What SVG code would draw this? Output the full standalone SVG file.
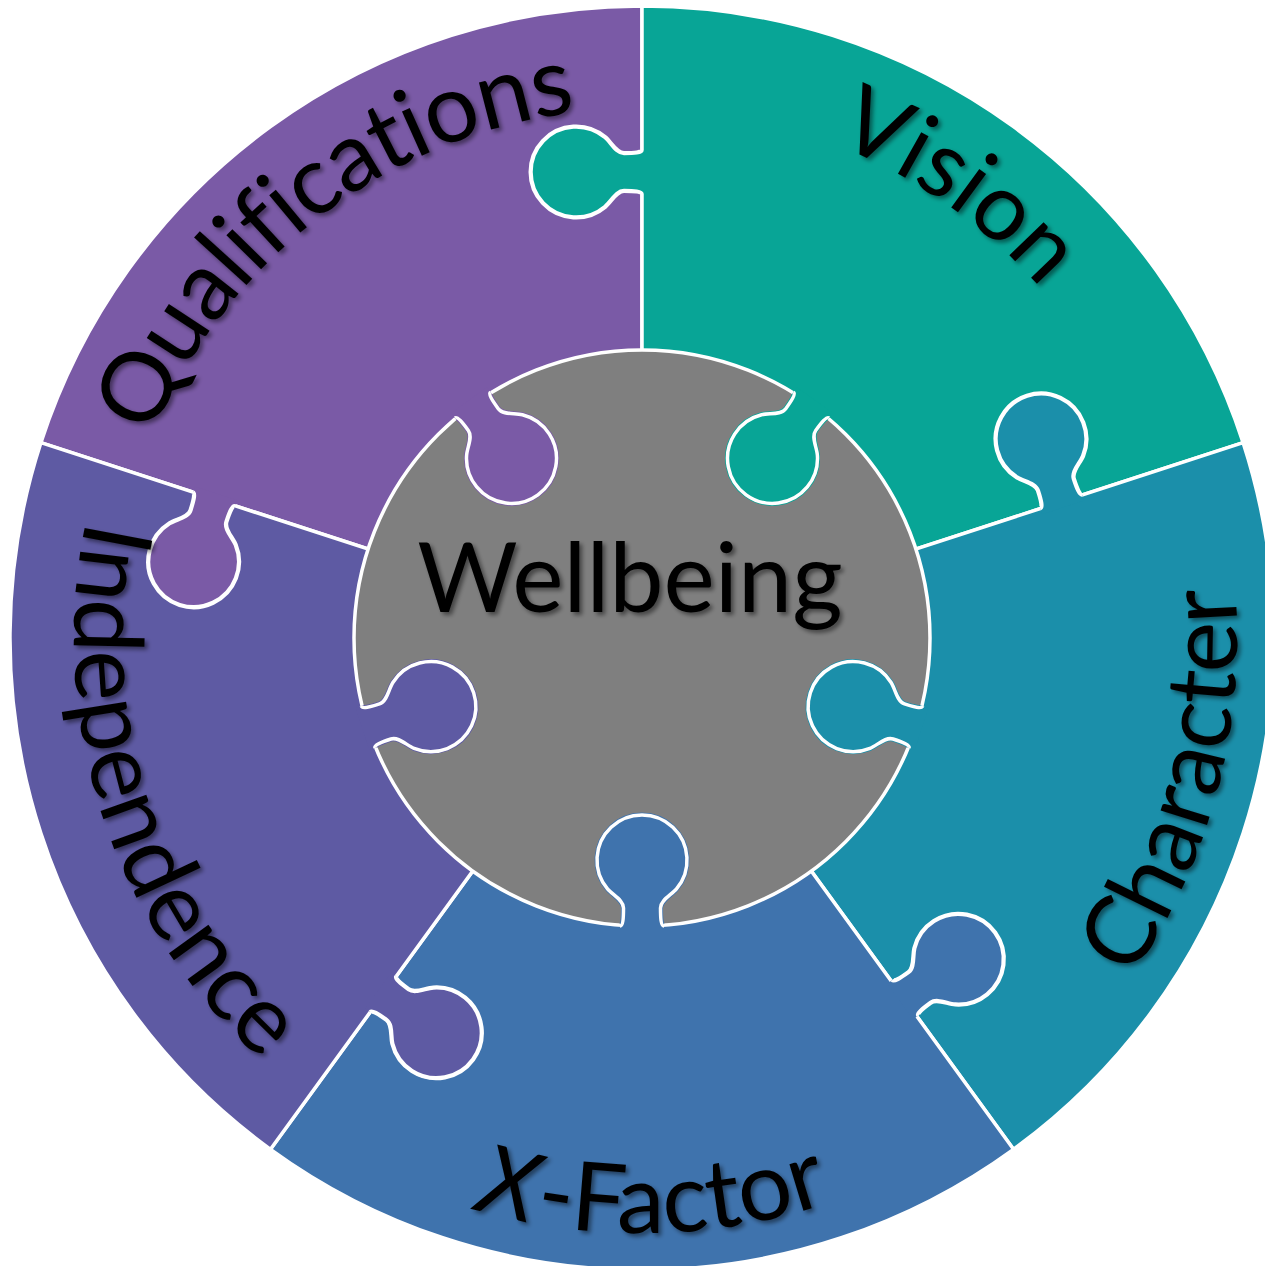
<svg xmlns="http://www.w3.org/2000/svg" width="1265" height="1266" viewBox="0 0 1265 1266">
  <style>
    .q{fill:#7A5AA6}
    .v{fill:#08A596}
    .c{fill:#1B8FAA}
    .x{fill:#3F73AD}
    .i{fill:#5E5AA3}
    .piece{stroke:#fff;stroke-width:3.5;stroke-linejoin:round}
    .edge{fill:none;stroke:#fff;stroke-width:3.5;stroke-linejoin:round}
    .hole{fill:#000}
    .hole-edge{fill:none;stroke:#000;stroke-width:5}
    .lbl{font-family:Lato,"Liberation Sans",sans-serif;font-size:96px;fill:#000}
  </style>
  <defs>
    <!-- puzzle tab: base on the y=0 seam, knob grows toward +y -->
    <path id="tabFill" d="M-22,-6 L-22,0 C-19,0 -18.5,8 -18.5,18 C-18.5,26 -29.4,31 -34.5,37.1 A45,45 0 1 0 34.5,37.1 C29.4,31 18.5,26 18.5,18 C18.5,8 19,0 22,0 L22,-6 Z"/>
    <path id="tabEdge" d="M-22,0 C-19,0 -18.5,8 -18.5,18 C-18.5,26 -29.4,31 -34.5,37.1 A45,45 0 1 0 34.5,37.1 C29.4,31 18.5,26 18.5,18 C18.5,8 19,0 22,0"/>
    <g id="tabHole"><use href="#tabFill" class="hole"/><use href="#tabEdge" class="hole-edge"/></g>

    <!-- label baselines -->
    <path id="arcQ" d="M171.9,882.7 A530,530 0 0 1 1000.1,247.2"/>
    <path id="arcV" d="M267.2,263.2 A530,530 0 0 1 1122.3,862"/>
    <path id="arcC" d="M590.1,1230.7 A595,595 0 0 0 893.5,98.7"/>
    <path id="arcX" d="M57.9,751.5 A595,595 0 0 0 1229.7,731.1"/>
    <path id="arcI" d="M375.3,136.5 A568,568 0 0 0 721,1200.5"/>

    <filter id="shadow" x="-10%" y="-10%" width="125%" height="130%">
      <feDropShadow dx="3" dy="3" stdDeviation="2" flood-color="#000" flood-opacity="0.45"/>
    </filter>

    <!-- notches where a neighbouring knob enters a piece -->
    <mask id="m-q" maskUnits="userSpaceOnUse" x="0" y="0" width="1265" height="1266">
      <rect width="1265" height="1266" fill="#fff"/>
      <use href="#tabHole" transform="translate(642,172) rotate(90)"/>
    </mask>
    <mask id="m-v" maskUnits="userSpaceOnUse" x="0" y="0" width="1265" height="1266">
      <rect width="1265" height="1266" fill="#fff"/>
      <use href="#tabHole" transform="translate(1061.4,501.7) rotate(162)"/>
    </mask>
    <mask id="m-c" maskUnits="userSpaceOnUse" x="0" y="0" width="1265" height="1266">
      <rect width="1265" height="1266" fill="#fff"/>
      <use href="#tabHole" transform="translate(905,998) rotate(234)"/>
    </mask>
    <mask id="m-x" maskUnits="userSpaceOnUse" x="0" y="0" width="1265" height="1266">
      <rect width="1265" height="1266" fill="#fff"/>
      <use href="#tabHole" transform="translate(383,994) rotate(-54)"/>
    </mask>
    <mask id="m-i" maskUnits="userSpaceOnUse" x="0" y="0" width="1265" height="1266">
      <rect width="1265" height="1266" fill="#fff"/>
      <use href="#tabHole" transform="translate(214,499) rotate(18)"/>
    </mask>
    <mask id="m-w" maskUnits="userSpaceOnUse" x="0" y="0" width="1265" height="1266">
      <rect width="1265" height="1266" fill="#fff"/>
      <use href="#tabHole" transform="translate(472.7,405) rotate(-36)"/>
      <use href="#tabHole" transform="translate(811.3,405) rotate(36)"/>
      <use href="#tabHole" transform="translate(915.9,727) rotate(108)"/>
      <use href="#tabHole" transform="translate(642,926) rotate(180)"/>
      <use href="#tabHole" transform="translate(368.1,727) rotate(-108)"/>
    </mask>
  </defs>

  <g id="qualifications">
    <path class="piece q" mask="url(#m-q)" d="M642,638 L642,6 A632,632 0 0 0 40.9,442.7 Z"/>
    <g transform="translate(214,499) rotate(18)"><use href="#tabFill" class="q"/><use href="#tabEdge" class="edge"/></g>
    <g transform="translate(472.7,405) rotate(-36)"><use href="#tabFill" class="q"/><use href="#tabEdge" class="edge"/></g>
    <text class="lbl" filter="url(#shadow)" letter-spacing="-1.5"><textPath href="#arcQ" startOffset="50%" text-anchor="middle">Qualifications</textPath></text>
  </g>

  <g id="vision">
    <path class="piece v" mask="url(#m-v)" d="M642,638 L1243.1,442.7 A632,632 0 0 0 642,6 Z"/>
    <g transform="translate(642,172) rotate(90)"><use href="#tabFill" class="v"/><use href="#tabEdge" class="edge"/></g>
    <g transform="translate(811.3,405) rotate(36)"><use href="#tabFill" class="v"/><use href="#tabEdge" class="edge"/></g>
    <text class="lbl" filter="url(#shadow)" style="font-size:94px"><textPath href="#arcV" startOffset="50%" text-anchor="middle">Vision</textPath></text>
  </g>

  <g id="character">
    <path class="piece c" mask="url(#m-c)" d="M642,638 L1013.5,1149.3 A632,632 0 0 0 1243.1,442.7 Z"/>
    <g transform="translate(1061.4,501.7) rotate(162)"><use href="#tabFill" class="c"/><use href="#tabEdge" class="edge"/></g>
    <g transform="translate(915.9,727) rotate(108)"><use href="#tabFill" class="c"/><use href="#tabEdge" class="edge"/></g>
    <text class="lbl" filter="url(#shadow)"><textPath href="#arcC" startOffset="50%" text-anchor="middle">Character</textPath></text>
  </g>

  <g id="x-factor">
    <path class="piece x" mask="url(#m-x)" d="M642,638 L270.5,1149.3 A632,632 0 0 0 1013.5,1149.3 Z"/>
    <g transform="translate(905,998) rotate(234)"><use href="#tabFill" class="x"/><use href="#tabEdge" class="edge"/></g>
    <g transform="translate(642,926) rotate(180)"><use href="#tabFill" class="x"/><use href="#tabEdge" class="edge"/></g>
    <text class="lbl" filter="url(#shadow)"><textPath href="#arcX" startOffset="50%" text-anchor="middle"><tspan font-style="italic">X</tspan><tspan dx="4">-Factor</tspan></textPath></text>
  </g>

  <g id="independence">
    <path class="piece i" mask="url(#m-i)" d="M642,638 L40.9,442.7 A632,632 0 0 0 270.5,1149.3 Z"/>
    <g transform="translate(383,994) rotate(-54)"><use href="#tabFill" class="i"/><use href="#tabEdge" class="edge"/></g>
    <g transform="translate(368.1,727) rotate(-108)"><use href="#tabFill" class="i"/><use href="#tabEdge" class="edge"/></g>
    <text class="lbl" filter="url(#shadow)"><textPath href="#arcI" startOffset="50%" text-anchor="middle">Independence</textPath></text>
  </g>

  <g id="wellbeing">
    <circle cx="642" cy="638" r="288" fill="#7F7F7F" stroke="#fff" stroke-width="3.5" mask="url(#m-w)"/>
    <text x="630" y="612" text-anchor="middle" class="lbl" style="font-size:97px" filter="url(#shadow)">Wellbeing</text>
  </g>
</svg>
